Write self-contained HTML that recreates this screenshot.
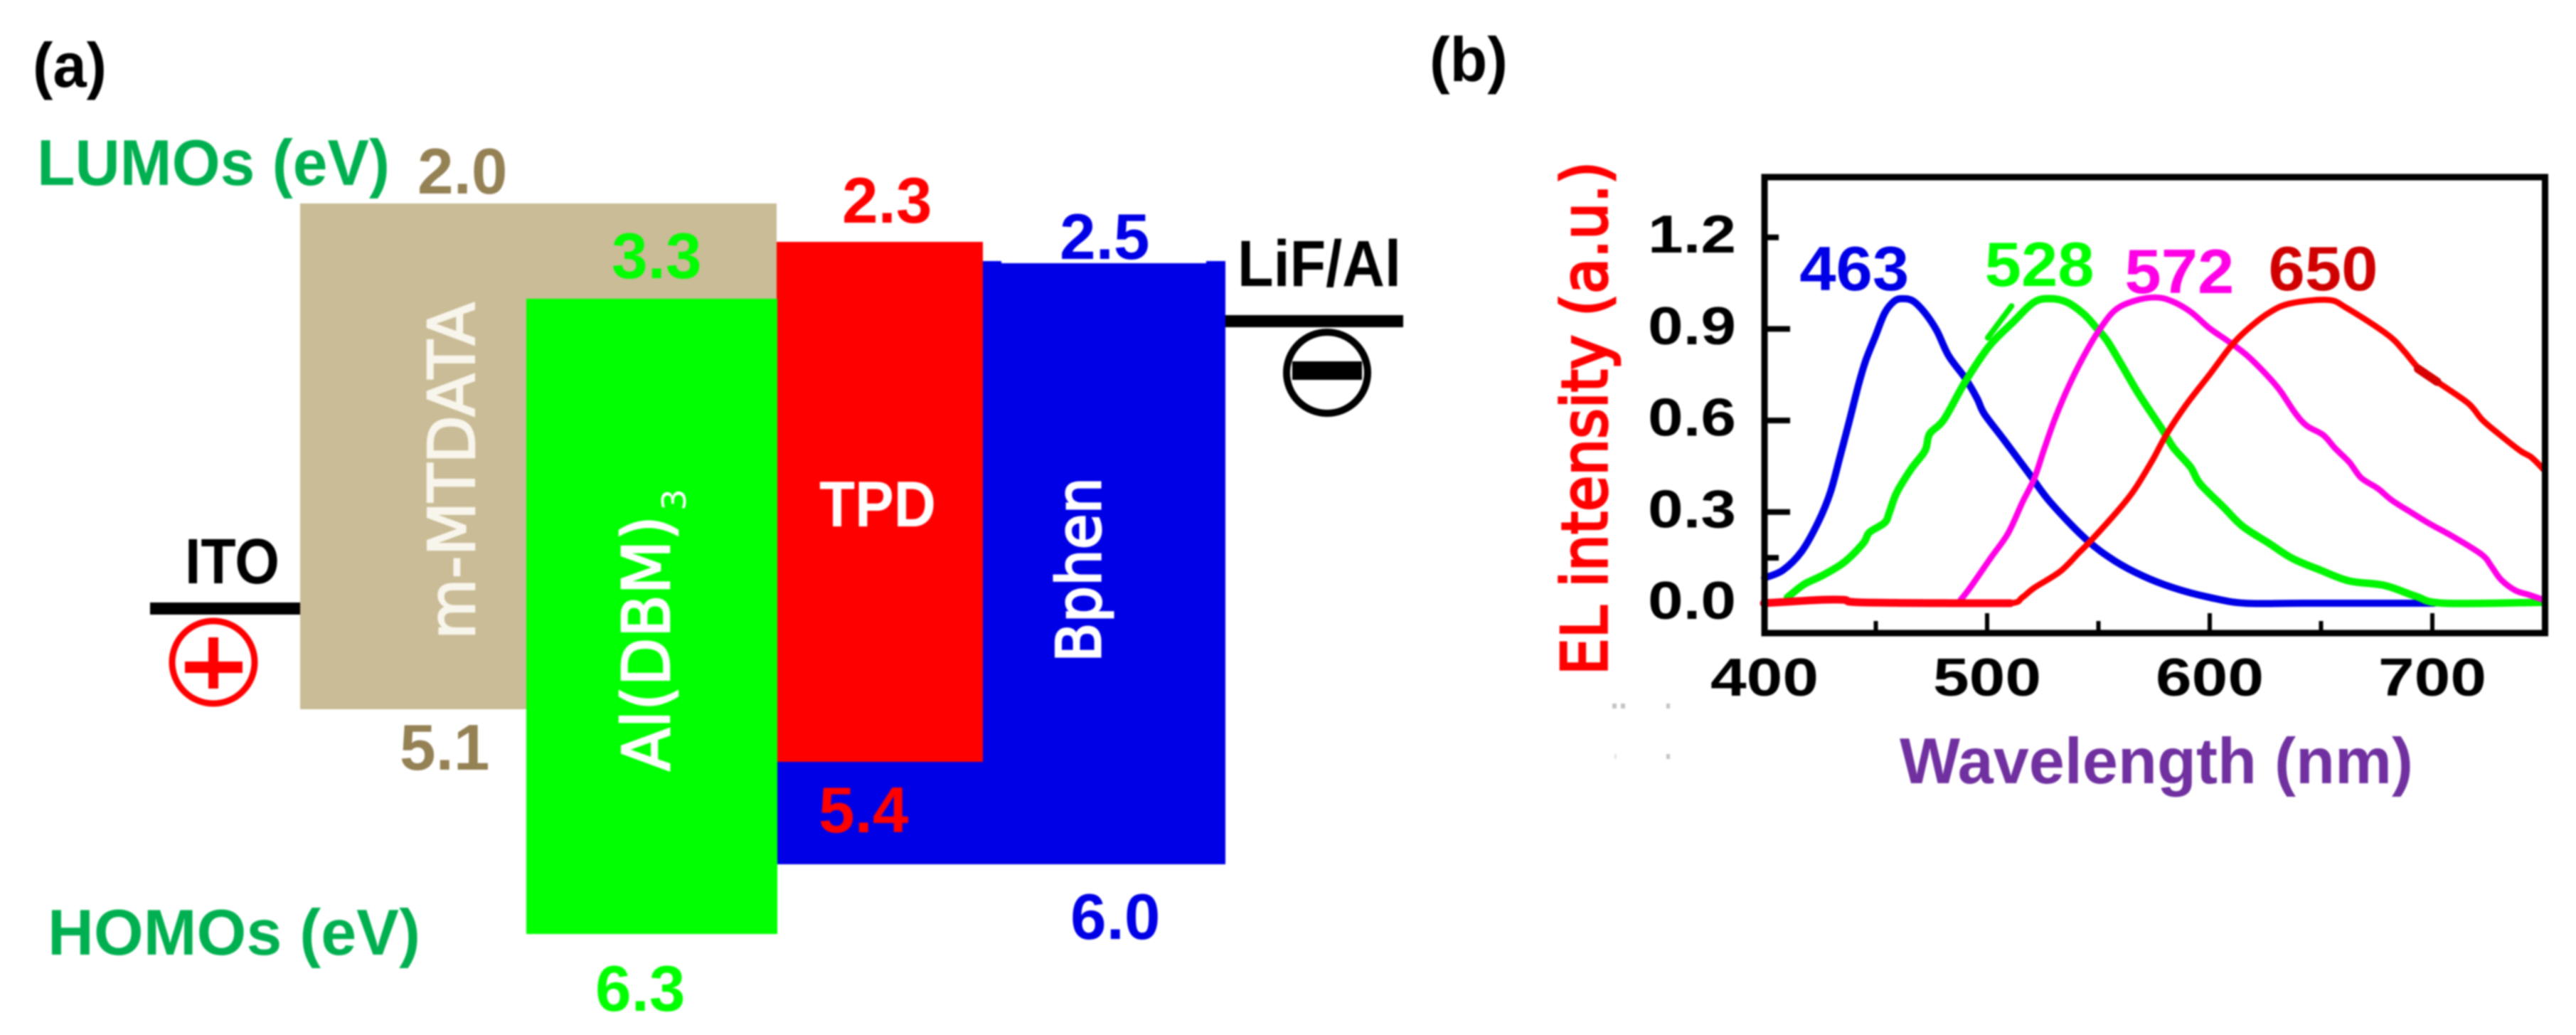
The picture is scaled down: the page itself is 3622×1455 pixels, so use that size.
<!DOCTYPE html>
<html lang="en">
<head>
<meta charset="utf-8">
<title>Energy level diagram and EL spectra</title>
<style>
html,body{margin:0;padding:0;background:#fff;width:3622px;height:1455px;overflow:hidden}
svg{display:block;filter:blur(1px)}
text{font-family:"Liberation Sans",sans-serif}
.b{font-weight:700}
.dv{font-family:"DejaVu Sans","Liberation Sans",sans-serif}
</style>
</head>
<body>
<svg id="figure" xmlns="http://www.w3.org/2000/svg" width="3622" height="1455" viewBox="0 0 3622 1455">
  <rect x="0" y="0" width="3622" height="1455" fill="#ffffff"/>

  <g id="panel-a">
    <text class="b" x="46" y="122" font-size="88" textLength="104" lengthAdjust="spacingAndGlyphs" fill="#000">(a)</text>
    <text class="b" x="52" y="260" font-size="91" textLength="496" lengthAdjust="spacingAndGlyphs" fill="#00b050">LUMOs (eV)</text>
    <text class="b" x="67" y="1342" font-size="91" textLength="524" lengthAdjust="spacingAndGlyphs" fill="#00b050">HOMOs (eV)</text>
    <g id="bands"></g>
    <rect x="211" y="847" width="211" height="17" fill="#000"/>
    <text class="b" x="260" y="820" font-size="90" textLength="133" lengthAdjust="spacingAndGlyphs" fill="#000">ITO</text>
    <g>
      <circle cx="300" cy="931" r="58" fill="none" stroke="#ff0000" stroke-width="9"/>
      <rect x="260" y="930" width="81" height="16" fill="#ff0000"/>
      <rect x="293" y="896" width="14" height="72" fill="#ff0000"/>
    </g>
    <rect x="1723" y="443" width="250" height="17" fill="#000"/>
    <text class="b" x="1740" y="402" font-size="92" textLength="230" lengthAdjust="spacingAndGlyphs" fill="#000">LiF/Al</text>
    <g>
      <circle cx="1866" cy="524" r="57" fill="none" stroke="#000" stroke-width="10"/>
      <rect x="1817" y="508" width="98" height="26" fill="#000"/>
    </g>
    <text class="dv" transform="translate(667 899) rotate(-90)" x="0" y="0" font-size="90" textLength="474" lengthAdjust="spacingAndGlyphs" fill="#f8f5ec" stroke="#f8f5ec" stroke-width="2.5">m-MTDATA</text>
    <text class="dv" transform="translate(941 1084) rotate(-90)" x="0" y="0" font-size="92" textLength="359" lengthAdjust="spacingAndGlyphs" fill="#ffffff" stroke="#ffffff" stroke-width="2.5">Al(DBM)</text>
    <text class="dv" transform="translate(964 718) rotate(-90)" x="0" y="0" font-size="46" textLength="31" lengthAdjust="spacingAndGlyphs" fill="#ffffff">3</text>
    <text class="b" x="1152" y="740" font-size="91" textLength="164" lengthAdjust="spacingAndGlyphs" fill="#ffffff">TPD</text>
    <text class="dv" transform="translate(1547 931) rotate(-90)" x="0" y="0" font-size="86" textLength="260" lengthAdjust="spacingAndGlyphs" fill="#ffffff" stroke="#ffffff" stroke-width="3">Bphen</text>
  </g>

  <g id="panel-b">
    <text class="b" x="2010" y="114" font-size="88" textLength="110" lengthAdjust="spacingAndGlyphs" fill="#000">(b)</text>
    <text class="dv" transform="translate(2259 949) rotate(-90)" x="0" y="0" font-size="88" textLength="722" lengthAdjust="spacingAndGlyphs" fill="#ff0000" stroke="#ff0000" stroke-width="3.5">EL intensity (a.u.)</text>
    <text class="b" x="2671" y="1101" font-size="91" textLength="722" lengthAdjust="spacingAndGlyphs" fill="#7030a0">Wavelength (nm)</text>
    <g id="series"></g>
    <g id="axes"></g>
    <g id="peaks"></g>
    <g fill="#c4c4c4">
      <rect x="2267" y="989" width="6" height="7"/><rect x="2279" y="989" width="6" height="7"/><rect x="2343" y="989" width="5" height="7"/>
      <rect x="2270" y="1060" width="3" height="7" fill="#e4e4e4"/><rect x="2343" y="1060" width="5" height="7"/>
    </g>
  </g>
</svg>

<script>
// Panel (a) data
const layerNames = ['m-MTDATA', 'Bphen', 'TPD', 'Al(DBM)3'];
const lumoValues = [2.0, 2.5, 2.3, 3.3];
const homoValues = [5.1, 6.0, 5.4, 6.3];

// Panel (b) data
const xTickValues = [450, 500, 550, 600, 650, 700];
const xTickLabels = ['400', '500', '600', '700'];
const yTickValues = [0.15, 0.3, 0.6, 0.9, 1.2];
const yTickLabels = ['0.0', '0.3', '0.6', '0.9', '1.2'];
const peakValues = [463, 528, 572, 650];

const blueWavelengths = [400, 408.2, 416.7, 424.2, 429.5, 433.8, 438, 442.3, 445.5, 449.7, 454, 458.3, 462, 466.8, 472.1, 477.4, 482.7, 490.2, 495.5, 498.7, 507.2, 519, 528.5, 544.5, 557.3, 570.1, 583.9, 599.9, 615.9, 642.5, 701];
const blueIntensity = [0.083, 0.108, 0.17, 0.267, 0.361, 0.477, 0.594, 0.718, 0.796, 0.873, 0.951, 0.99, 0.998, 0.99, 0.951, 0.893, 0.811, 0.737, 0.671, 0.621, 0.539, 0.423, 0.33, 0.209, 0.139, 0.089, 0.05, 0.019, 0, 0, 0];

const greenWavelengths = [410.3, 417.8, 426.3, 435.9, 444.4, 447.1, 454, 456.1, 459.3, 465.7, 472.1, 474.2, 480.6, 490.2, 500.9, 511.5, 521, 528.5, 536, 543.5, 548.8, 554.1, 560.5, 568, 578.6, 583.9, 591.4, 595.6, 606.3, 614.8, 626.5, 637.1, 649.9, 662.7, 678.7, 692.5, 705.3, 750];
const greenIntensity = [0.019, 0.062, 0.092, 0.135, 0.197, 0.232, 0.264, 0.298, 0.361, 0.438, 0.5, 0.555, 0.602, 0.726, 0.842, 0.92, 0.986, 0.998, 0.986, 0.947, 0.905, 0.858, 0.78, 0.687, 0.57, 0.508, 0.446, 0.392, 0.314, 0.252, 0.197, 0.147, 0.108, 0.073, 0.058, 0.023, 0, 0.003];

const greenSpurWavelengths = [500.3, 511];
const greenSpurIntensity = [0.87, 0.974];

const magentaWavelengths = [488.1, 492.3, 501.9, 509.4, 515.8, 521.1, 525.4, 530.7, 537.1, 543.5, 549.8, 557.3, 565.8, 575.4, 582.9, 591.4, 599.9, 608.4, 616.9, 626.5, 631.8, 638.2, 643.5, 651, 656.3, 662.7, 668, 675.5, 681.9, 690.4, 698.9, 709.6, 722.3, 726.6, 730.9, 737.3, 743.6, 750];
const magentaIntensity = [0.011, 0.05, 0.151, 0.229, 0.33, 0.407, 0.5, 0.609, 0.718, 0.811, 0.889, 0.959, 0.99, 1.002, 0.99, 0.955, 0.901, 0.858, 0.811, 0.741, 0.695, 0.625, 0.582, 0.551, 0.508, 0.462, 0.411, 0.376, 0.337, 0.298, 0.26, 0.217, 0.159, 0.12, 0.077, 0.042, 0.027, 0.011];

const redWavelengths = [399.7, 425.2, 435.9, 442.3, 484.9, 510.4, 515.8, 521.1, 532.8, 541.3, 546.6, 557.3, 565.8, 574.3, 580.7, 589.2, 599.9, 609.5, 616.9, 626.5, 636.1, 653.1, 661.6, 679.7, 687.2, 693.6, 702.1, 716, 722.3, 729.8, 739.4, 744.7, 750];
const redIntensity = [0, 0.011, 0.011, 0.003, 0, 0, 0.019, 0.05, 0.104, 0.166, 0.205, 0.291, 0.368, 0.469, 0.555, 0.648, 0.749, 0.842, 0.897, 0.951, 0.982, 0.994, 0.967, 0.881, 0.827, 0.772, 0.726, 0.656, 0.602, 0.555, 0.5, 0.477, 0.438];

const redBaselineWavelengths = [399.7, 425.2, 435.9, 442.3, 484.9, 510.4];
const redBaselineIntensity = [0, 0.011, 0.011, 0.003, 0, 0];

const redDarkWavelengths = [693.6, 702.1];
const redDarkIntensity = [0.768, 0.726];

const SVG_NS = 'http://www.w3.org/2000/svg';
function make(tag, parent, attrs, content) {
  const el = document.createElementNS(SVG_NS, tag);
  Object.keys(attrs).forEach(function (k) { el.setAttribute(k, attrs[k]); });
  if (content !== undefined) el.textContent = content;
  parent.appendChild(el);
  return el;
}

// ---- Panel (a): schematic (non-uniform) energy axis ----
const energyStops = [2.0, 2.3, 2.5, 3.3, 5.1, 5.4, 6.0, 6.3];
const energyPixels = [286, 340, 370, 420, 997, 1071, 1215, 1313];
function energyY(v) {
  if (v <= energyStops[0]) return energyPixels[0] + (v - energyStops[0]) * 180;
  for (let i = 1; i < energyStops.length; i++) {
    if (v <= energyStops[i]) {
      const t = (v - energyStops[i - 1]) / (energyStops[i] - energyStops[i - 1]);
      return energyPixels[i - 1] + t * (energyPixels[i] - energyPixels[i - 1]);
    }
  }
  return energyPixels[energyPixels.length - 1] + (v - 6.3) * 320;
}
const bandLeft = [422, 1093, 1092, 740];
const bandRight = [1092, 1723, 1382, 1093];
const bandFill = ['#c9bc96', '#0000e6', '#ff0000', '#00ff00'];
const lumoLabelX = [587, 1490, 1184, 860];
const lumoLabelGap = [14, 6, 27, 29];
const homoLabelX = [562, 1505, 1151, 837];
const homoLabelGap = [85, 105, 99, 108];
const lumoTextFill = ['#948154', '#0000e6', '#ff0000', '#00ff00'];
const homoTextFill = ['#948154', '#0000e6', '#ff0000', '#00ff00'];
const bandsGroup = document.getElementById('bands');
layerNames.forEach(function (name, i) {
  const top = energyY(lumoValues[i]);
  const bottom = energyY(homoValues[i]);
  const rect = make('rect', bandsGroup, { x: bandLeft[i], y: top, width: bandRight[i] - bandLeft[i], height: bottom - top, fill: bandFill[i] });
  
  
});
const bphenIndex = layerNames.indexOf('Bphen');
const notchLeft = make('rect', bandsGroup, { x: 1382, y: energyY(lumoValues[bphenIndex]) - 3, width: 26, height: 4, fill: '#0000e6' });


const notchRight = make('rect', bandsGroup, { x: 1696, y: energyY(lumoValues[bphenIndex]) - 3, width: 27, height: 4, fill: '#0000e6' });


layerNames.forEach(function (name, i) {
  const lumoText = make('text', bandsGroup, { x: lumoLabelX[i], y: energyY(lumoValues[i]) - lumoLabelGap[i], 'font-size': 91, 'font-weight': 700, fill: lumoTextFill[i] }, lumoValues[i].toFixed(1));
  
  
  const homoText = make('text', bandsGroup, { x: homoLabelX[i], y: energyY(homoValues[i]) + homoLabelGap[i], 'font-size': 91, 'font-weight': 700, fill: homoTextFill[i] }, homoValues[i].toFixed(1));
  
  
});

// ---- Panel (b): axis functions ----
function xScale(w) { return 2481 + (w - 400) * 3.13; }
function yScale(v) { return 848 - v * 429; }

function curvePath(xs, ys) {
  const pts = xs.map(function (w, i) { return [xScale(w), yScale(ys[i])]; });
  let d = 'M' + pts[0][0].toFixed(1) + ' ' + pts[0][1].toFixed(1);
  for (let i = 0; i < pts.length - 1; i++) {
    const p0 = pts[Math.max(i - 1, 0)];
    const p1 = pts[i];
    const p2 = pts[i + 1];
    const p3 = pts[Math.min(i + 2, pts.length - 1)];
    const c1x = p1[0] + (p2[0] - p0[0]) / 6;
    const c1y = p1[1] + (p2[1] - p0[1]) / 6;
    const c2x = p2[0] - (p3[0] - p1[0]) / 6;
    const c2y = p2[1] - (p3[1] - p1[1]) / 6;
    d += 'C' + c1x.toFixed(1) + ' ' + c1y.toFixed(1) + ' ' + c2x.toFixed(1) + ' ' + c2y.toFixed(1) + ' ' + p2[0].toFixed(1) + ' ' + p2[1].toFixed(1);
  }
  return d;
}

const seriesGroup = document.getElementById('series');
function drawCurve(name, xs, ys, color, width) {
  const p = make('path', seriesGroup, { d: curvePath(xs, ys), fill: 'none', stroke: color, 'stroke-width': width, 'stroke-linejoin': 'round', 'stroke-linecap': 'round' });
  
  
}
drawCurve('series-blue-463', blueWavelengths, blueIntensity, '#0000e6', 10);
drawCurve('series-green-528', greenWavelengths, greenIntensity, '#00f500', 10.5);
drawCurve('series-green-spur', greenSpurWavelengths, greenSpurIntensity, '#00f000', 8);
drawCurve('series-magenta-572', magentaWavelengths, magentaIntensity, '#ff00e6', 8.5);
drawCurve('series-red-650', redWavelengths, redIntensity, '#ff0000', 8.5);
drawCurve('series-red-baseline', redBaselineWavelengths, redBaselineIntensity, '#ff0010', 11);
drawCurve('series-red-dark-segment', redDarkWavelengths, redDarkIntensity, '#d80000', 12);

const axesGroup = document.getElementById('axes');
const frameLeft = xScale(400);
const frameRight = xScale(750) + 2;
const frameTop = 249;
const frameBottom = 890;
const frame = make('rect', axesGroup, { x: frameLeft, y: frameTop, width: frameRight - frameLeft, height: frameBottom - frameTop, fill: 'none', stroke: '#000', 'stroke-width': 9 });



xTickValues.forEach(function (w) {
  const major = w % 100 === 0;
  const t = make('rect', axesGroup, { x: xScale(w) - 3, y: major ? 862 : 873, width: 6, height: major ? 28 : 17, fill: '#000' });
  
  
});
xTickLabels.forEach(function (label) {
  const t = make('text', axesGroup, { x: xScale(Number(label)) - 76, y: 978, 'font-size': 75, 'font-weight': 700, fill: '#000', textLength: 152, lengthAdjust: 'spacingAndGlyphs' }, label);
  
  
});
yTickValues.forEach(function (v) {
  const long = v === 0.3 || v === 0.6 || v === 0.9;
  const t = make('rect', axesGroup, { x: frameLeft, y: yScale(v) - 3.5, width: long ? 36 : 20, height: 8, fill: '#000' });
  
  
});
yTickLabels.forEach(function (label) {
  const t = make('text', axesGroup, { x: 2317, y: yScale(Number(label)) + 22, 'font-size': 75, 'font-weight': 700, fill: '#000', textLength: 124, lengthAdjust: 'spacingAndGlyphs' }, label);
  
  
});

const peakOffsets = [-148, -91, -32, -74];
const peakBaselines = [408, 402, 412, 408];
const peakColors = ['#0000e6', '#00ff00', '#ff00e6', '#d00000'];
const peaksGroup = document.getElementById('peaks');
peakValues.forEach(function (w, i) {
  const t = make('text', peaksGroup, { x: xScale(w) + peakOffsets[i], y: peakBaselines[i], 'font-size': 88, 'font-weight': 700, fill: peakColors[i], textLength: 154, lengthAdjust: 'spacingAndGlyphs' }, String(w));
  
  
});
</script>
</body>
</html>
